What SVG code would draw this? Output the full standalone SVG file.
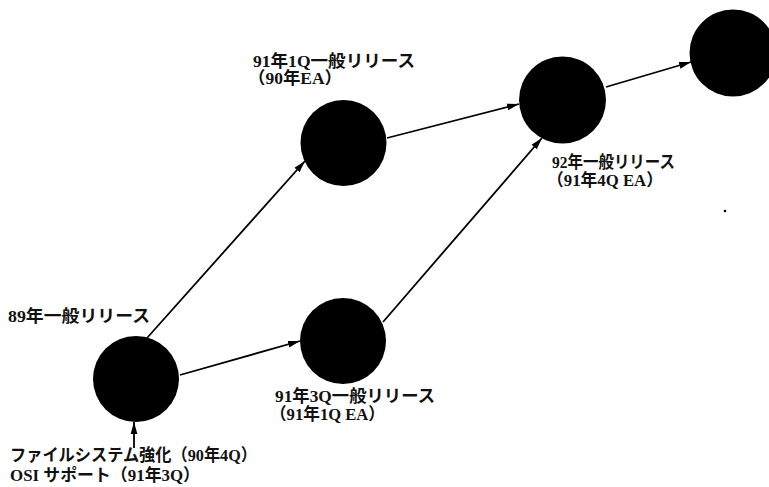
<svg xmlns="http://www.w3.org/2000/svg" width="769" height="487" viewBox="0 0 769 487">
<style>
.node circle{fill:#000}
.lbl{font-family:"Liberation Serif","Noto Sans CJK JP",serif;font-weight:bold;font-size:17px;fill:#111}
.edge{stroke:#000;stroke-width:1.8;fill:none;marker-end:url(#ah)}
</style>
<defs>
<marker id="ah" markerUnits="userSpaceOnUse" markerWidth="13" markerHeight="8" refX="12" refY="4" orient="auto">
<path d="M0,0.6 L12,4 L0,7.4 Z" fill="#000"/>
</marker>
</defs>
<rect width="769" height="487" fill="#fff"/>
<g id="connectors">
<line class="edge" x1="147" y1="338" x2="305" y2="161"/>
<line class="edge" x1="180" y1="375" x2="300" y2="341"/>
<line class="edge" x1="383" y1="322" x2="542" y2="138"/>
<line class="edge" x1="387" y1="138" x2="519" y2="104"/>
<line class="edge" x1="606" y1="87" x2="691" y2="62"/>
<line class="edge" x1="134" y1="448" x2="134" y2="422"/>
</g>
<g id="n89" class="node">
<circle cx="136" cy="379" r="43"/>
<text class="lbl" x="8" y="322" textLength="142" lengthAdjust="spacingAndGlyphs">89年一般リリース</text>
<text class="lbl" x="10" y="461" textLength="247" lengthAdjust="spacingAndGlyphs">ファイルシステム強化（90年4Q）</text>
<text class="lbl" x="10" y="481" textLength="190" lengthAdjust="spacingAndGlyphs">OSI サポート（91年3Q）</text>
</g>
<g id="n91_1Q" class="node">
<circle cx="343.5" cy="143" r="43"/>
<text class="lbl" x="253" y="67" textLength="162" lengthAdjust="spacingAndGlyphs">91年1Q一般リリース</text>
<text class="lbl" x="248" y="84" textLength="94" lengthAdjust="spacingAndGlyphs">（90年EA）</text>
</g>
<g id="n91_3Q" class="node">
<circle cx="343" cy="341" r="43"/>
<text class="lbl" x="275" y="402" textLength="160" lengthAdjust="spacingAndGlyphs">91年3Q一般リリース</text>
<text class="lbl" x="270" y="420" textLength="115" lengthAdjust="spacingAndGlyphs">（91年1Q EA）</text>
</g>
<g id="n92" class="node">
<circle cx="562.5" cy="100" r="43.5"/>
<text class="lbl" x="552" y="168" textLength="123" lengthAdjust="spacingAndGlyphs">92年一般リリース</text>
<text class="lbl" x="547" y="186" textLength="116" lengthAdjust="spacingAndGlyphs">（91年4Q EA）</text>
</g>
<g id="nNext" class="node">
<circle cx="733" cy="53" r="43.5"/>
</g>
<circle cx="725" cy="211" r="1.3" fill="#000"/>
</svg>
